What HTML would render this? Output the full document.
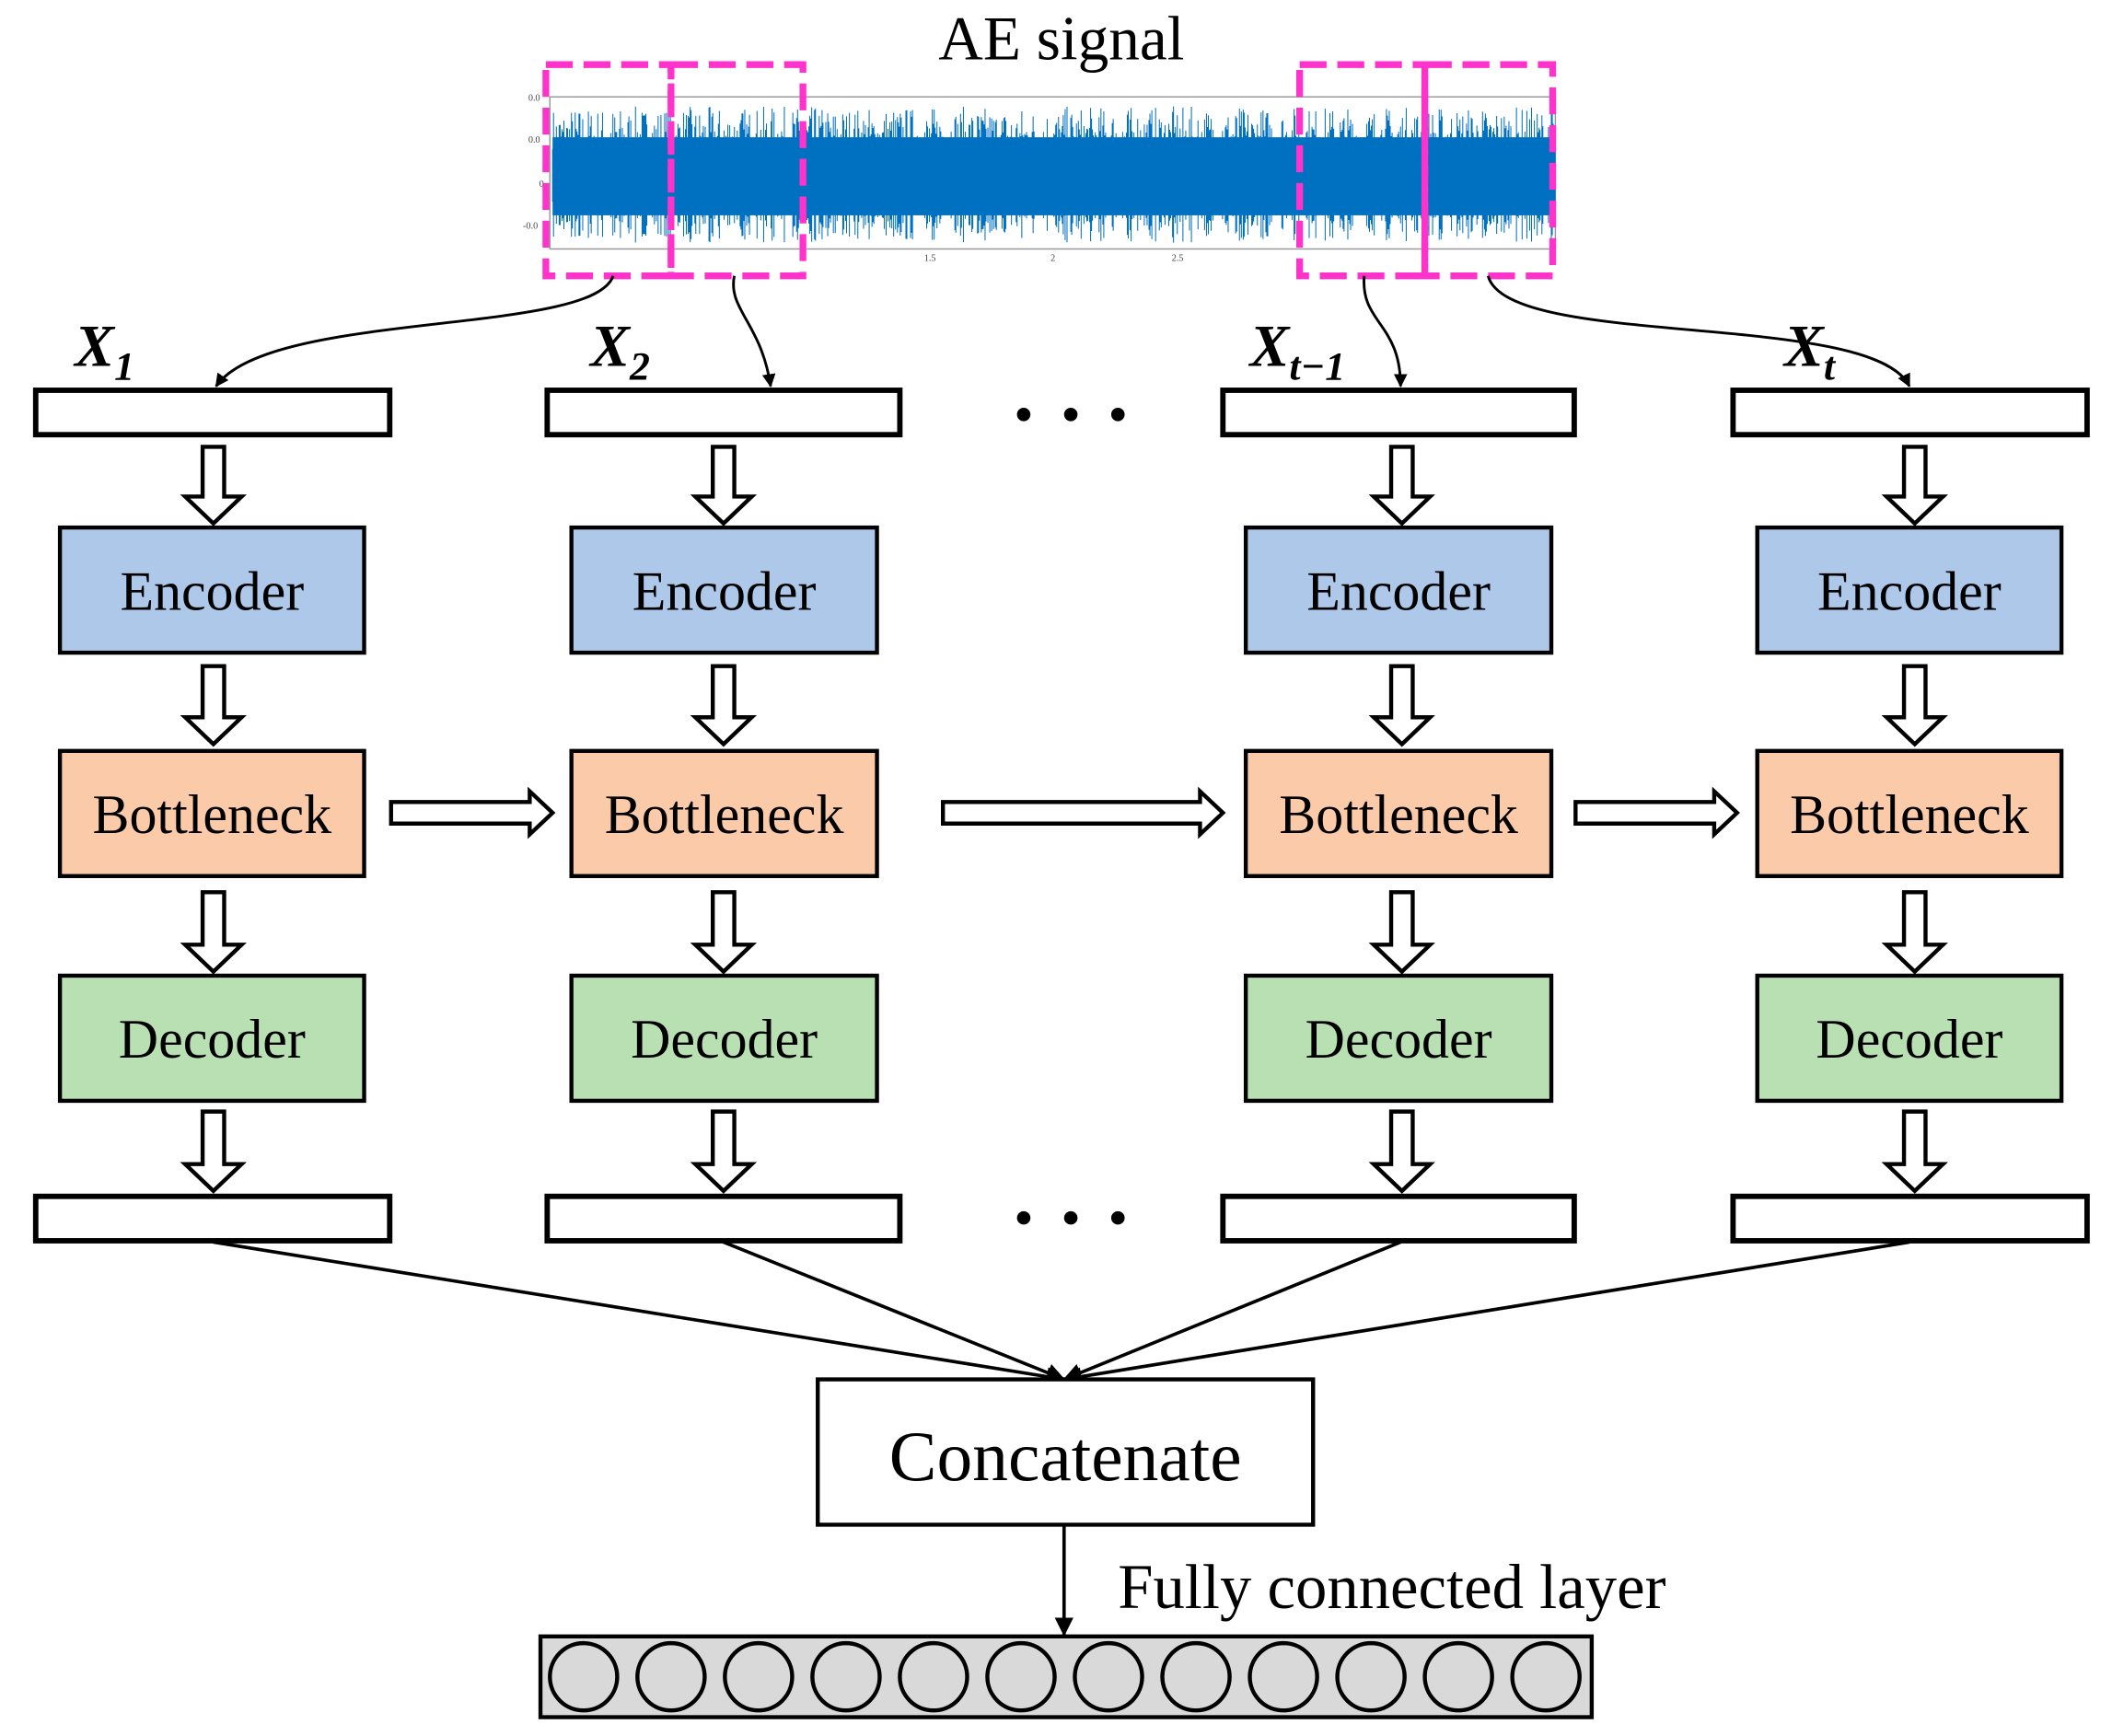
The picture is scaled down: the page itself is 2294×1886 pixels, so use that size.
<!DOCTYPE html>
<html><head><meta charset="utf-8"><style>
html,body{margin:0;padding:0;background:#fff;}
svg{display:block;}
text{font-family:"Liberation Serif",serif;}
</style></head><body>
<svg id="s" width="2294" height="1886" viewBox="0 0 1568 1290" xmlns="http://www.w3.org/2000/svg">
<defs>
<marker id="ah" markerWidth="10" markerHeight="10" refX="9" refY="5" orient="auto" markerUnits="userSpaceOnUse"><path d="M0,0 L10,5 L0,10 z" fill="#000"/></marker>
<marker id="ah2" markerWidth="14" markerHeight="14" refX="13" refY="7" orient="auto" markerUnits="userSpaceOnUse"><path d="M0,0 L14,7 L0,14 z" fill="#000"/></marker>
</defs>
<text x="788" y="44" font-size="46" text-anchor="middle">AE signal</text>
<rect x="408" y="72" width="747" height="113" fill="#fff" stroke="#999" stroke-width="1"/>
<g id="sig"><rect x="410" y="102" width="745" height="58" fill="#0070c0"/></g>
<g font-size="7" fill="#444" font-family="Liberation Sans,sans-serif">
<text x="392" y="75">0.0</text><text x="392" y="106">0.0</text><text x="400" y="139">0</text><text x="388" y="170">-0.0</text>
<text x="686" y="194">1.5</text><text x="780" y="194">2</text><text x="870" y="194">2.5</text>
</g>
<g fill="none" stroke="#ff33cc" stroke-width="5" stroke-dasharray="20,8">
<rect x="405" y="48" width="93" height="157"/><rect x="498" y="48" width="98" height="157"/>
<rect x="965" y="48" width="93" height="157"/><rect x="1058" y="48" width="95" height="157"/>
</g>
<g fill="none" stroke="#000" stroke-width="2">
<path d="M455,205 C440,250 200,230 160,287" marker-end="url(#ah)"/>
<path d="M545,205 C540,230 565,240 572,287" marker-end="url(#ah)"/>
<path d="M1013,205 C1010,240 1040,240 1040,287" marker-end="url(#ah)"/>
<path d="M1105,205 C1120,260 1390,230 1418,287" marker-end="url(#ah)"/>
</g>
<g font-size="44" font-style="italic" font-weight="bold" fill="#000">
<text x="55" y="272" font-family="DejaVu Serif,serif">X<tspan font-size="30" dy="10">1</tspan></text>
<text x="438" y="272" font-family="DejaVu Serif,serif">X<tspan font-size="30" dy="10">2</tspan></text>
<text x="928" y="272" font-family="DejaVu Serif,serif">X<tspan font-size="30" dy="10">t−1</tspan></text>
<text x="1325" y="272" font-family="DejaVu Serif,serif">X<tspan font-size="30" dy="10">t</tspan></text>
</g>
<g id="cols"></g>
<g fill="#000">
<circle cx="760" cy="308" r="5"/><circle cx="795" cy="308" r="5"/><circle cx="830" cy="308" r="5"/>
<circle cx="760" cy="905" r="5"/><circle cx="795" cy="905" r="5"/><circle cx="830" cy="905" r="5"/>
</g>
<g fill="#fff" stroke="#000" stroke-width="3">
<path d="M290,596 H393 V588 L410,604 L393,620 V612 H290 Z"/>
<path d="M700,596 H891 V588 L908,604 L891,620 V612 H700 Z"/>
<path d="M1170,596 H1273 V588 L1290,604 L1273,620 V612 H1170 Z"/>
</g>
<g stroke="#000" stroke-width="2.5" fill="none">
<line x1="158" y1="923" x2="790" y2="1025" marker-end="url(#ah2)"/>
<line x1="537" y1="923" x2="790" y2="1025" marker-end="url(#ah2)"/>
<line x1="1040" y1="923" x2="790" y2="1025" marker-end="url(#ah2)"/>
<line x1="1418" y1="923" x2="790" y2="1025" marker-end="url(#ah2)"/>
<line x1="790" y1="1133" x2="790" y2="1215" marker-end="url(#ah2)"/>
</g>
<rect x="607" y="1025" width="368" height="108" fill="#fff" stroke="#000" stroke-width="3"/>
<text x="791" y="1100" font-size="53" text-anchor="middle">Concatenate</text>
<text x="830" y="1195" font-size="47">Fully connected layer</text>
<rect x="401" y="1216" width="781" height="60" fill="#d9d9d9" stroke="#000" stroke-width="3"/>
<g id="circ" fill="#d9d9d9" stroke="#000" stroke-width="3"></g>
</svg>
<script>
var ns="http://www.w3.org/2000/svg";
function el(p,t,a,txt){var e=document.createElementNS(ns,t);for(var k in a)e.setAttribute(k,a[k]);if(txt)e.textContent=txt;p.appendChild(e);return e;}
var cols=document.getElementById('cols');
var inx=[[26,289],[406,668],[908,1169],[1287,1550]];
var bx=[[44,270],[424,651],[925,1152],[1305,1531]];
var cx=[158,537,1041,1422];
function darrow(c,y1,y2){var h=20;el(cols,'path',{d:'M'+(c-8)+','+y1+' V'+(y2-h)+' H'+(c-21)+' L'+c+','+y2+' L'+(c+21)+','+(y2-h)+' H'+(c+8)+' V'+y1+' Z',fill:'#fff',stroke:'#000','stroke-width':3});}
for(var i=0;i<4;i++){
 el(cols,'rect',{x:inx[i][0],y:290,width:inx[i][1]-inx[i][0],height:33,fill:'#fff',stroke:'#000','stroke-width':4});
 el(cols,'rect',{x:inx[i][0],y:889,width:inx[i][1]-inx[i][0],height:33,fill:'#fff',stroke:'#000','stroke-width':4});
 var L=[['Encoder',392,'#adc8e8'],['Bottleneck',558,'#fbcaa8'],['Decoder',725,'#b9e0b3']];
 for(var j=0;j<3;j++){
  el(cols,'rect',{x:bx[i][0],y:L[j][1],width:bx[i][1]-bx[i][0],height:93,fill:L[j][2],stroke:'#000','stroke-width':3});
  el(cols,'text',{x:(bx[i][0]+bx[i][1])/2,y:L[j][1]+61,'font-size':41,'text-anchor':'middle'},L[j][0]);
 }
 darrow(cx[i],332,389);darrow(cx[i],495,553);darrow(cx[i],663,722);darrow(cx[i],826,885);
}
var c=document.getElementById('circ');
for(var k=0;k<12;k++)el(c,'circle',{cx:433+k*65,cy:1246,r:25});
var sg=document.getElementById('sig');var d='';var seed=7;function r(){seed=(seed*16807)%2147483647;return seed/2147483647;}
for(var x=410;x<1155;x+=0.7){var a=20+Math.pow(r(),2)*32;d+='M'+x.toFixed(1)+','+(131-a).toFixed(1)+'V'+(131+a*0.95).toFixed(1);}
el(sg,'path',{d:d,stroke:'#0070c0','stroke-width':0.7,fill:'none'});
</script>
</body></html>
